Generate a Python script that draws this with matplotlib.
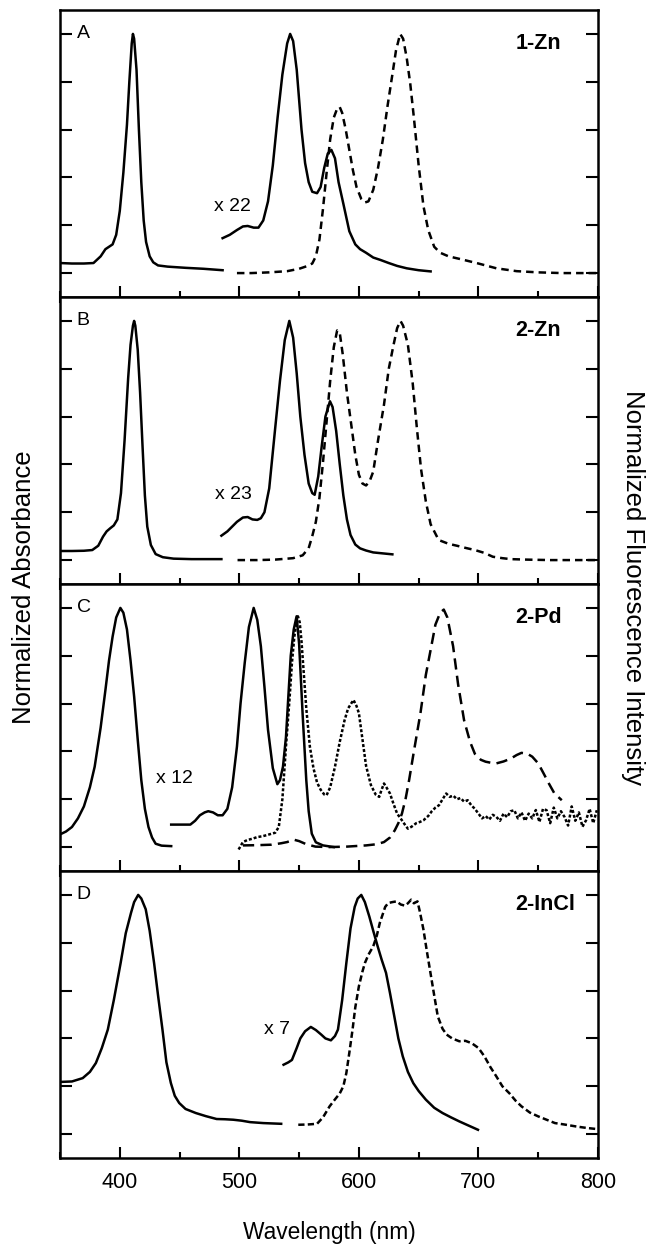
import matplotlib
matplotlib.use('Agg')
import matplotlib.pyplot as plt
from matplotlib.ticker import MultipleLocator, NullFormatter

plt.rcParams['font.family'] = ['Liberation Sans', 'DejaVu Sans']

# ---- Panel A (1-Zn) ----
a_abs_x = [350, 360, 370, 378, 384, 388, 391, 394, 397, 400, 403, 406, 408, 410, 411, 412, 414, 416, 418, 420,
           422, 425, 428, 432, 440, 455, 470, 486]
a_abs_y = [0.042, 0.04, 0.04, 0.042, 0.07, 0.1, 0.11, 0.12, 0.16, 0.26, 0.42, 0.62, 0.8, 0.96, 1.0, 0.98, 0.85,
           0.6, 0.38, 0.22, 0.13, 0.07, 0.045, 0.032, 0.027, 0.022, 0.018, 0.012]
a_q_x = [486, 492, 498, 503, 507, 512, 516, 520, 524, 528, 532, 536, 540, 542.5, 545, 548, 552, 555, 558, 561,
         565, 568, 571, 574, 577, 580, 583, 587, 592, 597, 601, 606, 612, 618, 625, 632, 640, 650, 660]
a_q_y = [0.146, 0.16, 0.18, 0.195, 0.197, 0.19, 0.19, 0.22, 0.3, 0.45, 0.65, 0.83, 0.96, 1.0, 0.97, 0.85, 0.6,
         0.46, 0.38, 0.34, 0.334, 0.36, 0.44, 0.5, 0.515, 0.48, 0.38, 0.29, 0.175, 0.12, 0.1, 0.085, 0.065,
         0.055, 0.042, 0.03, 0.02, 0.012, 0.007]
a_em_x = [498, 510, 525, 540, 550, 556, 561, 564, 567, 570, 573, 576, 579, 582, 584, 586, 589, 592, 595, 598,
          602, 605, 608, 612, 616, 620, 624, 628, 631, 634.5, 637, 640, 643, 646, 650, 654, 658, 663, 668, 675,
          687, 700, 715, 732, 750, 770, 800]
a_em_y = [0.0, 0.0, 0.003, 0.008, 0.018, 0.028, 0.04, 0.07, 0.14, 0.27, 0.42, 0.56, 0.65, 0.69, 0.694, 0.67,
          0.6, 0.515, 0.43, 0.36, 0.31, 0.295, 0.3, 0.348, 0.44, 0.557, 0.7, 0.83, 0.93, 1.0, 0.98, 0.9, 0.79,
          0.65, 0.45, 0.28, 0.18, 0.11, 0.085, 0.07, 0.056, 0.04, 0.02, 0.008, 0.003, 0.0, 0.0]

# ---- Panel B (2-Zn) ----
b_abs_x = [350, 360, 370, 377, 382, 386, 389, 392, 395, 398, 401, 404, 407, 409, 411, 412, 413, 415, 417, 419,
           421, 423, 426, 430, 436, 445, 460, 485]
b_abs_y = [0.038, 0.038, 0.039, 0.042, 0.06, 0.098, 0.12, 0.133, 0.145, 0.17, 0.28, 0.5, 0.76, 0.9, 0.98, 1.0,
           0.98, 0.88, 0.7, 0.48, 0.27, 0.14, 0.063, 0.025, 0.012, 0.006, 0.004, 0.004]
b_q_x = [485, 490, 494, 498, 503, 507, 511, 515, 518, 521, 525, 530, 534, 538, 541.8, 545, 548, 551, 554.5, 558,
         561, 563, 566, 569, 572, 575.8, 578, 581, 584, 587, 590, 593, 597, 601, 606, 612, 620, 628]
b_q_y = [0.102, 0.12, 0.14, 0.16, 0.178, 0.18, 0.17, 0.168, 0.175, 0.2, 0.3, 0.552, 0.75, 0.92, 1.0, 0.93, 0.78,
         0.6, 0.44, 0.32, 0.28, 0.273, 0.35, 0.48, 0.6, 0.664, 0.64, 0.54, 0.4, 0.27, 0.17, 0.105, 0.065, 0.049,
         0.04, 0.032, 0.028, 0.024]
b_em_x = [498.5, 515, 530, 545, 553, 558, 561, 564, 567, 570, 573, 576, 579, 581.8, 584, 586.5, 590, 594, 597,
          600, 603, 606, 609, 612, 616, 621, 625, 629, 632, 634.8, 637, 641, 645, 648.5, 652, 656, 660, 666.7,
          675, 682, 690, 697, 705, 712, 720, 727, 740, 760, 780, 800]
b_em_y = [0.0, 0.0, 0.002, 0.008, 0.02, 0.05, 0.1, 0.16, 0.26, 0.41, 0.58, 0.75, 0.89, 0.96, 0.95, 0.86, 0.7,
          0.552, 0.44, 0.357, 0.32, 0.312, 0.33, 0.37, 0.5, 0.65, 0.8, 0.9, 0.97, 1.0, 0.98, 0.9, 0.74, 0.552,
          0.38, 0.245, 0.15, 0.084, 0.068, 0.06, 0.05, 0.042, 0.03, 0.014, 0.008, 0.004, 0.002, 0.0, 0.0, 0.0]

# ---- Panel C (2-Pd) ----
c_abs_x = [350, 355, 360, 365, 370, 375, 379, 384, 388, 391, 394, 397, 400.5, 403, 406, 409, 412, 415, 418, 421,
           424, 427, 430, 435, 443]
c_abs_y = [0.053, 0.065, 0.084, 0.12, 0.17, 0.25, 0.336, 0.5, 0.657, 0.78, 0.88, 0.96, 1.0, 0.98, 0.91, 0.78,
           0.63, 0.45, 0.28, 0.16, 0.084, 0.04, 0.014, 0.006, 0.004]
c_q_x = [443, 450, 459, 463, 467, 471, 474, 478, 482, 486, 490, 494, 498, 501, 504.5, 508, 512, 515, 518, 521,
         524, 528, 531.8, 534, 536.5, 539, 541, 543, 545.5, 547.9, 550, 551.5, 553, 556, 558, 560.6, 564, 570, 579]
c_q_y = [0.094, 0.094, 0.094, 0.11, 0.133, 0.145, 0.15, 0.145, 0.133, 0.133, 0.16, 0.25, 0.42, 0.6, 0.77, 0.92,
         1.0, 0.95, 0.84, 0.67, 0.49, 0.33, 0.263, 0.28, 0.336, 0.46, 0.63, 0.8, 0.91, 0.965, 0.85, 0.7, 0.55,
         0.28, 0.15, 0.056, 0.02, 0.007, 0.0]
c_fl_x = [499.4, 503, 507, 511, 515, 519, 523, 527, 530, 533, 536, 539, 542, 544, 546, 548, 549, 550.5, 552, 554,
          556, 559, 562, 565, 568, 571, 573, 576, 580, 584, 588, 591, 593.5, 595.5, 598, 600, 603, 606, 610, 614,
          617, 619, 621, 623, 626, 629, 632, 636, 639, 641, 644, 648, 651, 654, 658, 661, 664, 667, 670, 673,
          676, 679, 682, 685, 688, 691, 694, 697, 700, 703, 706, 709, 712, 715, 718, 721, 724, 727, 730, 733,
          736, 739, 742, 745, 748, 751, 754, 757, 760, 763, 766, 769, 772, 775, 778, 781, 784, 787, 790, 793,
          796, 799]
c_fl_y = [-0.01, 0.021, 0.03, 0.035, 0.042, 0.045, 0.05, 0.056, 0.06, 0.084, 0.2, 0.42, 0.62, 0.77, 0.88, 0.95,
          0.965, 0.94, 0.86, 0.72, 0.58, 0.42, 0.33, 0.27, 0.24, 0.22, 0.217, 0.25, 0.336, 0.44, 0.53, 0.58, 0.6,
          0.615, 0.59, 0.56, 0.45, 0.34, 0.26, 0.22, 0.21, 0.24, 0.266, 0.25, 0.224, 0.18, 0.14, 0.112, 0.09,
          0.077, 0.085, 0.1, 0.105, 0.112, 0.13, 0.15, 0.165, 0.175, 0.2, 0.224, 0.21, 0.215, 0.2, 0.205, 0.19,
          0.196, 0.175, 0.16, 0.14, 0.12, 0.13, 0.115, 0.135, 0.126, 0.11, 0.14, 0.125, 0.15, 0.154, 0.12, 0.145,
          0.11, 0.14, 0.12, 0.155, 0.105, 0.16, 0.154, 0.1, 0.165, 0.12, 0.15, 0.126, 0.09, 0.17, 0.11, 0.145,
          0.085, 0.112, 0.16, 0.1, 0.154]
c_em_x = [503, 515, 527, 535, 540, 545.5, 550, 556, 563.6, 575, 590, 606, 615, 621, 626, 630, 633, 636, 639, 642,
          646, 651.5, 656, 660.6, 664, 668, 671, 674, 678.8, 683, 688, 693, 697, 702, 706, 711, 715, 721, 727,
          732, 736, 741, 745, 750, 754.5, 759, 763.6, 769.7]
c_em_y = [0.007, 0.008, 0.01, 0.016, 0.021, 0.031, 0.025, 0.012, 0.002, 0.0, 0.002, 0.007, 0.012, 0.021, 0.04,
          0.07, 0.1, 0.14, 0.2, 0.28, 0.4, 0.56, 0.72, 0.84, 0.93, 0.98, 0.993, 0.96, 0.84, 0.68, 0.53, 0.44,
          0.39, 0.365, 0.357, 0.352, 0.35, 0.358, 0.37, 0.385, 0.394, 0.39, 0.378, 0.35, 0.308, 0.265, 0.224,
          0.196]

# ---- Panel D (2-InCl) ----
d_abs_x = [350, 360, 369, 375, 380, 385, 390, 395, 400.7, 405, 409.4, 412, 415.4, 418, 421.7, 425, 428.7, 432,
           435.7, 439, 442.7, 446, 449.7, 455, 463.6, 472, 481, 488, 495, 502, 509, 520, 535]
d_abs_y = [0.218, 0.22, 0.234, 0.26, 0.297, 0.36, 0.437, 0.56, 0.715, 0.84, 0.925, 0.97, 1.0, 0.985, 0.94, 0.85,
           0.715, 0.58, 0.437, 0.3, 0.214, 0.16, 0.13, 0.105, 0.088, 0.075, 0.063, 0.062, 0.06, 0.056, 0.05,
           0.046, 0.043]
d_q_x = [537, 541, 544, 548, 551, 555, 559.8, 564, 568.5, 572, 576.6, 580, 582.5, 586, 589.5, 593, 596.5, 599,
         602, 605, 608.7, 612, 615.7, 619, 622.7, 626, 629.7, 633, 636.7, 641, 645.5, 650, 656, 663, 670, 677,
         684, 692, 699.6]
d_q_y = [0.29, 0.3, 0.31, 0.36, 0.4, 0.43, 0.448, 0.435, 0.416, 0.4, 0.392, 0.41, 0.437, 0.56, 0.715, 0.86, 0.95,
         0.985, 1.0, 0.97, 0.91, 0.85, 0.785, 0.73, 0.674, 0.59, 0.49, 0.4, 0.325, 0.26, 0.213, 0.18, 0.144,
         0.11, 0.088, 0.07, 0.053, 0.035, 0.018]
d_em_x = [549.3, 557, 565, 570, 575.5, 580, 584, 587, 589.5, 592, 594.7, 597, 600, 603, 605, 608, 612, 615, 617.5,
          620, 622, 624.5, 628, 631.5, 635, 638.5, 641, 643.7, 646, 649, 651, 654, 657, 659.4, 663, 666, 670,
          673.4, 678, 684, 689, 694.4, 700, 705, 710, 715, 720, 726, 731, 736, 743, 750, 757, 764, 772, 781.5,
          790, 799]
d_em_y = [0.039, 0.04, 0.043, 0.07, 0.116, 0.145, 0.17, 0.2, 0.255, 0.34, 0.437, 0.53, 0.618, 0.68, 0.715, 0.75,
          0.785, 0.83, 0.883, 0.92, 0.95, 0.966, 0.97, 0.973, 0.96, 0.955, 0.965, 0.98, 0.965, 0.973, 0.93, 0.855,
          0.76, 0.688, 0.58, 0.492, 0.44, 0.416, 0.4, 0.388, 0.39, 0.38, 0.36, 0.325, 0.28, 0.241, 0.2, 0.17,
          0.14, 0.116, 0.09, 0.074, 0.06, 0.046, 0.04, 0.032, 0.026, 0.021]

letters = ['A', 'B', 'C', 'D']
names = ['1-Zn', '2-Zn', '2-Pd', '2-InCl']
mult_labels = ['x 22', 'x 23', 'x 12', 'x 7']
mult_pos = [(479, 0.278), (480, 0.273), (430, 0.287), (521, 0.437)]

dash_ab = (0, (3, 2))
panel_curves = [
    [(a_abs_x, a_abs_y, '-'), (a_q_x, a_q_y, '-'), (a_em_x, a_em_y, dash_ab)],
    [(b_abs_x, b_abs_y, '-'), (b_q_x, b_q_y, '-'), (b_em_x, b_em_y, dash_ab)],
    [(c_abs_x, c_abs_y, '-'), (c_q_x, c_q_y, '-'), (c_fl_x, c_fl_y, (0, (1.2, 0.8))),
     (c_em_x, c_em_y, (0, (4.5, 2.5)))],
    [(d_abs_x, d_abs_y, '-'), (d_q_x, d_q_y, '-'), (d_em_x, d_em_y, (0, (2.5, 1.3)))],
]

W, H = 656, 1255
fig = plt.figure(figsize=(W / 100, H / 100), dpi=100)

# frame in pixels: 4 stacked panels, 287 px each
left, right, top, ph = 60, 598, 10, 287
for i in range(4):
    bottom = H - (top + ph * (i + 1))
    ax = fig.add_axes([left / W, bottom / H, (right - left) / W, ph / H])
    for x, y, ls in panel_curves[i]:
        ax.plot(x, y, color='black', linewidth=1.8, linestyle=ls)

    ax.set_xlim(350, 800)
    ax.set_ylim(-0.1, 1.1)
    ax.xaxis.set_major_locator(MultipleLocator(100))
    ax.xaxis.set_minor_locator(MultipleLocator(50))
    ax.yaxis.set_major_locator(MultipleLocator(0.2))
    ax.yaxis.set_major_formatter(NullFormatter())
    ax.tick_params(axis='y', which='major', direction='in', length=8.4, width=1.5, left=True, right=True)
    if i < 3:
        ax.xaxis.set_major_formatter(NullFormatter())
        ax.tick_params(axis='x', which='major', direction='inout', length=16, width=1.5)
        ax.tick_params(axis='x', which='minor', direction='inout', length=8.4, width=1.5)
    else:
        ax.tick_params(axis='x', which='major', direction='in', length=8, width=1.5, pad=10, labelsize=15.5)
        ax.tick_params(axis='x', which='minor', direction='in', length=4.5, width=1.5)
    for sp in ax.spines.values():
        sp.set_linewidth(1.8)

    ax.text(364, 1.0, letters[i], ha='left', va='center', fontsize=14)
    ax.text(731, 0.958, names[i], ha='left', va='center', fontsize=15.5, fontweight='bold')
    ax.text(mult_pos[i][0], mult_pos[i][1], mult_labels[i], ha='left', va='center', fontsize=14)

fig.text(24 / W, 1 - 587 / H, 'Normalized Absorbance', rotation=90, ha='center', va='center', fontsize=18.5)
fig.text(633 / W, 1 - 587 / H, 'Normalized Fluorescence Intensity', rotation=270, ha='center', va='center',
         fontsize=18.5)
fig.text((left + right) / 2 / W, 1 - 1232 / H, 'Wavelength (nm)', ha='center', va='center', fontsize=16.4)

fig.savefig('out.png', dpi=100)
